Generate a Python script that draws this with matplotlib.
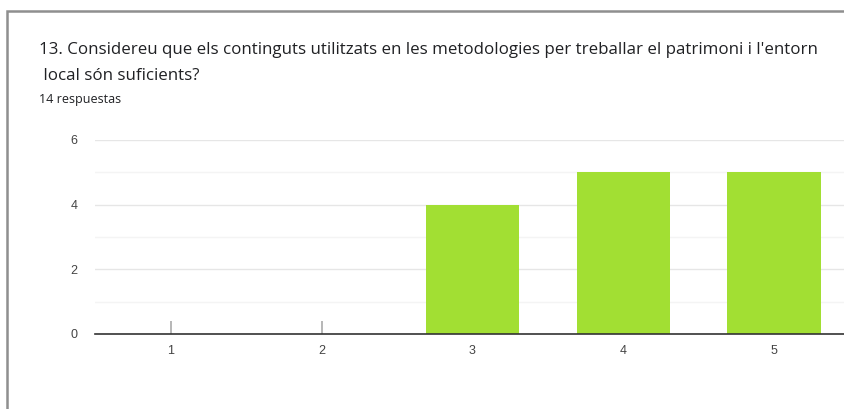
import numpy as np
import matplotlib.pyplot as plt
from matplotlib.patches import Rectangle

# datos del gráfico
categorias = ["1", "2", "3", "4", "5"]
respuestas = [0, 0, 4, 5, 5]
titulo_l1 = "13. Considereu que els continguts utilitzats en les metodologies per treballar el patrimoni i l'entorn"
titulo_l2 = " local són suficients?"
subtitulo = "14 respuestas"

W, H = 845, 409
fig = plt.figure(figsize=(W / 100, H / 100), dpi=100)
fig.patch.set_facecolor("white")

# marco de la tarjeta
fig.patches.append(Rectangle((7 / W, -0.1), 1.0, 1 - 11 / H + 0.1, transform=fig.transFigure,
                             fill=False, edgecolor="#8f8f8f", linewidth=1.8))

fig.text(39 / W, 1 - 50 / H, titulo_l1, fontsize=12.2, family="Open Sans", color="#202124", va="center")
fig.text(39 / W, 1 - 76 / H, titulo_l2, fontsize=12.2, family="Open Sans", color="#202124", va="center")
fig.text(39 / W, 1 - 99 / H, subtitulo, fontsize=9, family="Open Sans", color="#202124", va="center")

# ejes: x de 95.5 a 849.5 px, y de 140 a 334 px
ax = fig.add_axes([95.5 / W, 1 - 334 / H, (849.5 - 95.5) / W, (334 - 140) / H])
x = np.arange(len(categorias))
ax.bar(x, respuestas, width=0.62, color="#a2df33", zorder=3)

# marca pequeña para valores cero
ceros = [i for i, v in enumerate(respuestas) if v == 0]
ax.vlines(ceros, 0, 0.4, color="#aaaaaa", linewidth=1.2, zorder=3)

ax.set_xlim(-0.5, len(categorias) - 0.5)
ax.set_ylim(0, 6)
ax.set_xticks(x)
ax.set_xticklabels(categorias)
ax.set_yticks([0, 2, 4, 6])
ax.set_yticks([1, 3, 5], minor=True)
ax.grid(axis="y", which="major", color="#e6e6e6", linewidth=1, zorder=0)
ax.grid(axis="y", which="minor", color="#f4f4f4", linewidth=1, zorder=0)
ax.tick_params(axis="both", length=0, labelsize=9, colors="#444444", pad=8)
ax.tick_params(axis="y", which="minor", length=0)
ax.tick_params(axis="y", pad=13)
for lbl in ax.get_xticklabels() + ax.get_yticklabels():
    lbl.set_family("Liberation Sans")
for s in ["top", "right", "left"]:
    ax.spines[s].set_visible(False)
ax.spines["bottom"].set_color("#333333")
ax.spines["bottom"].set_linewidth(1.2)
ax.spines["bottom"].set_zorder(4)

fig.savefig("out.png", dpi=100)
